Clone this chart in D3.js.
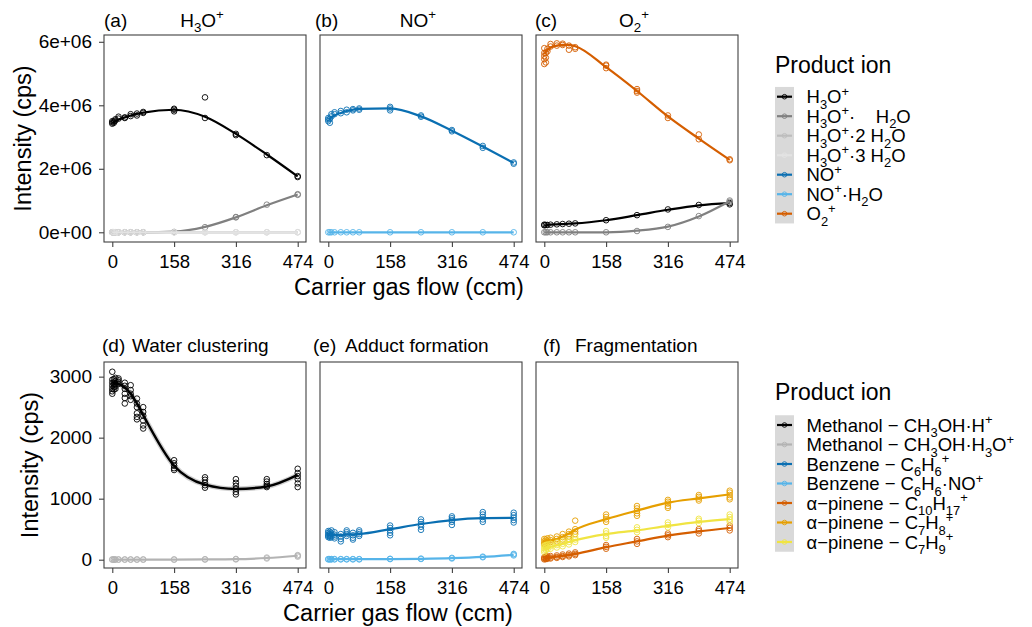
<!DOCTYPE html>
<html>
<head>
<meta charset="utf-8">
<script src="https://cdn.jsdelivr.net/npm/d3@7"></script>
<style>
  body { margin: 0; background: #fff; }
  text { font-family: "Liberation Sans", Arial, Helvetica, sans-serif; fill: #000; }
</style>
</head>
<body>
<svg id="chart" width="1032" height="627"></svg>
<script>
// carrier gas flow settings (ccm)
var flow = [0, 4, 8, 16, 32, 47, 63, 79, 158, 237, 316, 395, 474];
var xTicks = [0, 158, 316, 474];
var yTopTicks = [0, 2e6, 4e6, 6e6];
var yTopLabels = ['0e+00', '2e+06', '4e+06', '6e+06'];
var yBotTicks = [0, 1000, 2000, 3000];

// ---- top row, values in 1e6 cps ----
// (a) H3O+ reagent
var h3oPts = [[3.42, 3.46, 3.50], [3.45, 3.49], [3.52, 3.56], [3.58, 3.64], [3.60, 3.62], [3.66, 3.72], [3.68, 3.74], [3.76, 3.79], [3.81, 3.86, 3.89], [4.25, 3.60], [3.06, 3.10], [2.43], [1.74, 1.77]];
var h3oFit = [3.44, 3.47, 3.50, 3.55, 3.62, 3.68, 3.73, 3.77, 3.86, 3.64, 3.10, 2.45, 1.76];
var h3oW1Pts = [[0], [0], [0], [0], [0], [0], [0], [0], [0.01], [0.16], [0.47, 0.48], [0.87], [1.18, 1.20]];
var h3oW1Fit = [0, 0, 0, 0, 0, 0, 0, 0, 0.02, 0.17, 0.47, 0.85, 1.19];
var h3oW2Pts = [[0], [0], [0], [0], [0], [0], [0], [0], [0], [0], [0], [0], [0]];
var h3oW2Fit = [0, 0, 0, 0, 0, 0, 0, 0, 0, 0, 0, 0, 0];
var h3oW3Pts = [[0], [0], [0], [0], [0], [0], [0], [0], [0], [0], [0], [0], [0]];
var h3oW3Fit = [0, 0, 0, 0, 0, 0, 0, 0, 0, 0, 0, 0, 0];
// (b) NO+ reagent
var noPts = [[3.50, 3.55, 3.60], [3.45, 3.57], [3.65, 3.72], [3.72, 3.78], [3.75, 3.82], [3.78, 3.86], [3.84, 3.88], [3.86, 3.90], [3.84, 3.90, 3.95], [3.64, 3.68], [3.18, 3.22], [2.66, 2.72], [2.16, 2.20]];
var noFit = [3.55, 3.58, 3.62, 3.68, 3.76, 3.82, 3.86, 3.89, 3.90, 3.65, 3.20, 2.70, 2.18];
var noW1Pts = [[0], [0], [0], [0], [0], [0], [0], [0], [0], [0], [0], [0], [0]];
var noW1Fit = [0, 0, 0, 0, 0, 0, 0, 0, 0, 0, 0, 0, 0];
// (c) O2+ reagent
var o2Pts = [[5.30, 5.45, 5.55, 5.65, 5.80], [5.35, 5.50, 5.65], [5.70, 5.78], [5.85, 5.93], [5.88, 5.95], [5.90, 5.94], [5.75, 5.88], [5.78, 5.83], [5.17, 5.25, 5.28], [4.40, 4.45, 4.51], [3.60, 3.68], [2.93, 3.08], [2.27, 2.30]];
var o2Fit = [5.62, 5.68, 5.74, 5.82, 5.88, 5.90, 5.90, 5.86, 5.20, 4.45, 3.65, 2.95, 2.28];
var o2H3oPts = [[0.22, 0.24], [0.23], [0.23], [0.24], [0.25], [0.26], [0.27], [0.28], [0.38], [0.54], [0.72], [0.86], [0.88, 0.92]];
var o2H3oFit = [0.22, 0.22, 0.23, 0.24, 0.25, 0.26, 0.27, 0.28, 0.38, 0.54, 0.71, 0.85, 0.92];
var o2H3oW1Pts = [[0], [0], [0], [0], [0], [0], [0], [0], [0], [0.04], [0.17], [0.51], [0.96, 1.00]];
var o2H3oW1Fit = [0, 0, 0, 0, 0, 0, 0, 0, 0, 0.05, 0.18, 0.50, 0.98];

// ---- bottom row, cps ----
// (d) water clustering
var methHPts = [[3080, 2950, 2900, 2850, 2800, 2760, 2720], [2960, 2900, 2870, 2830, 2790], [2980, 2930, 2880, 2840, 2800], [2970, 2940, 2910, 2880], [2900, 2850, 2800, 2720, 2650, 2560], [2860, 2780, 2720, 2680, 2620], [2640, 2560, 2500, 2400, 2340, 2300], [2500, 2420, 2360, 2280, 2200, 2150], [1630, 1580, 1540, 1500, 1470], [1350, 1310, 1260, 1220, 1180], [1320, 1260, 1210, 1160, 1110, 1070], [1320, 1280, 1240, 1210, 1190], [1490, 1420, 1370, 1320, 1250, 1190]];
var methHFit = [2890, 2890, 2890, 2880, 2820, 2720, 2560, 2370, 1540, 1230, 1160, 1200, 1390];
var methH3oPts = [[0, 5], [0, 5], [0, 5], [0, 5], [0, 5], [0, 5], [0, 5], [0, 5], [0, 5], [2, 8], [5, 12], [20, 35], [50, 65, 75]];
var methH3oFit = [2, 2, 2, 2, 2, 2, 2, 2, 2, 4, 8, 28, 65];
// (e) adduct formation
var benzPts = [[470, 440, 410, 390, 370], [460, 420, 390, 360], [480, 430, 400, 370], [450, 410, 380, 350], [420, 380, 340, 300], [480, 450, 420, 390], [440, 400, 360, 330], [480, 450, 420, 390], [560, 520, 480, 440, 400], [660, 620, 580, 540, 490], [710, 680, 650, 620, 570], [780, 740, 700, 660, 620], [770, 730, 690, 650, 610]];
var benzFit = [415, 412, 410, 408, 405, 410, 415, 420, 500, 585, 650, 680, 685];
var benzNoPts = [[5, 10], [5, 10], [5, 10], [5, 10], [5, 10], [5, 10], [5, 10], [5, 10], [10, 15], [12, 18], [20, 30], [40, 50], [70, 85, 95]];
var benzNoFit = [8, 8, 8, 8, 8, 8, 8, 8, 10, 15, 25, 45, 80];
// (f) fragmentation
var pinC10Pts = [[40, 20, 5], [50, 25, 10], [55, 30, 15], [60, 35, 20], [70, 45, 30], [85, 60, 45], [100, 75, 55], [120, 95, 75], [240, 210, 180], [340, 300, 260], [430, 400, 370], [500, 470, 430], [560, 520, 480]];
var pinC10Fit = [20, 25, 30, 38, 50, 62, 78, 95, 205, 300, 395, 465, 520];
var pinC7H8Pts = [[340, 300, 270, 250], [330, 290, 260], [350, 310, 280], [360, 320, 290], [380, 340, 300], [420, 370, 330], [460, 420, 380, 340], [640, 500, 460, 420], [740, 700, 660, 620], [880, 840, 800, 760, 720], [980, 950, 920, 880, 850], [1060, 1030, 1000, 970], [1130, 1100, 1060, 1020, 990]];
var pinC7H8Fit = [295, 300, 305, 315, 340, 380, 430, 490, 665, 805, 935, 1005, 1070];
var pinC7H9Pts = [[230, 190, 150, 120], [240, 200, 160], [250, 210, 170], [260, 220, 180], [280, 240, 200], [300, 260, 220], [330, 290, 250], [370, 330, 290], [470, 430, 390, 360], [530, 490, 450], [610, 570, 530], [670, 640, 600], [740, 700, 660, 620]];
var pinC7H9Fit = [175, 185, 195, 210, 235, 260, 290, 320, 420, 480, 555, 620, 665];

// legend labels, as [text, 'sub'|'sup'] pieces
var topLegend = [
    [['H'], ['3', 'sub'], ['O'], ['+', 'sup']],
    [['H'], ['3', 'sub'], ['O'], ['+', 'sup'], ['\u00b7    H'], ['2', 'sub'], ['O']],
    [['H'], ['3', 'sub'], ['O'], ['+', 'sup'], ['\u00b72 H'], ['2', 'sub'], ['O']],
    [['H'], ['3', 'sub'], ['O'], ['+', 'sup'], ['\u00b73 H'], ['2', 'sub'], ['O']],
    [['NO'], ['+', 'sup']],
    [['NO'], ['+', 'sup'], ['\u00b7H'], ['2', 'sub'], ['O']],
    [['O'], ['2', 'sub'], ['+', 'sup']]
];
var topColors = ['#000000', '#808080', '#bdbdbd', '#e3e3e3', '#0a6fb2', '#56b4e9', '#d55e00'];
var botLegend = [
    [['Methanol \u2212 CH'], ['3', 'sub'], ['OH\u00b7H'], ['+', 'sup']],
    [['Methanol \u2212 CH'], ['3', 'sub'], ['OH\u00b7H'], ['3', 'sub'], ['O'], ['+', 'sup']],
    [['Benzene \u2212 C'], ['6', 'sub'], ['H'], ['6', 'sub'], ['+', 'sup']],
    [['Benzene \u2212 C'], ['6', 'sub'], ['H'], ['6', 'sub'], ['\u00b7NO'], ['+', 'sup']],
    [['\u03b1\u2212pinene \u2212 C'], ['10', 'sub'], ['H'], ['17', 'sub'], ['+', 'sup']],
    [['\u03b1\u2212pinene \u2212 C'], ['7', 'sub'], ['H'], ['8', 'sub'], ['+', 'sup']],
    [['\u03b1\u2212pinene \u2212 C'], ['7', 'sub'], ['H'], ['9', 'sub'], ['+', 'sup']]
];
var botColors = ['#000000', '#b3b3b3', '#0a6fb2', '#56b4e9', '#d55e00', '#e69f00', '#f0e442'];

var svg = d3.select('#chart');

function rich(sel, parts, size) {
    var shift = 0;
    parts.forEach(function(p) {
        var target = p[1] === 'sub' ? size * 0.3 : (p[1] === 'sup' ? -size * 0.4 : 0);
        sel.append('tspan')
            .attr('dy', target - shift)
            .attr('font-size', p[1] ? size * 0.7 : size)
            .text(p[0]);
        shift = target;
    });
    return sel;
}

var colX = [104, 320, 536];
var panelW = 202;
var rows = [
    { top: 35, bottom: 242, mult: 1e6, domain: [-0.306e6, 6.214e6], ticks: yTopTicks, labels: yTopLabels },
    { top: 362, bottom: 568, mult: 1, domain: [-136, 3240], ticks: yBotTicks, labels: null }
];

var panels = [
    { row: 0, col: 0, tag: '(a)', tagX: 104, title: [['H'], ['3', 'sub'], ['O'], ['+', 'sup']], center: true,
      series: [[h3oPts, h3oFit, 0], [h3oW1Pts, h3oW1Fit, 1], [h3oW2Pts, h3oW2Fit, 2], [h3oW3Pts, h3oW3Fit, 3]] },
    { row: 0, col: 1, tag: '(b)', tagX: 315, title: [['NO'], ['+', 'sup']], center: true,
      series: [[noPts, noFit, 4], [noW1Pts, noW1Fit, 5]] },
    { row: 0, col: 2, tag: '(c)', tagX: 535, title: [['O'], ['2', 'sub'], ['+', 'sup']], center: true,
      series: [[o2H3oPts, o2H3oFit, 0], [o2H3oW1Pts, o2H3oW1Fit, 1], [o2Pts, o2Fit, 6]] },
    { row: 1, col: 0, tag: '(d)', tagX: 102, title: [['Water clustering']], titleX: 132, band: true,
      series: [[methHPts, methHFit, 0], [methH3oPts, methH3oFit, 1]] },
    { row: 1, col: 1, tag: '(e)', tagX: 313, title: [['Adduct formation']], titleX: 345,
      series: [[benzPts, benzFit, 2], [benzNoPts, benzNoFit, 3]] },
    { row: 1, col: 2, tag: '(f)', tagX: 543, title: [['Fragmentation']], titleX: 575,
      series: [[pinC10Pts, pinC10Fit, 4], [pinC7H8Pts, pinC7H8Fit, 5], [pinC7H9Pts, pinC7H9Fit, 6]] }
];

panels.forEach(function(p) {
    var r = rows[p.row];
    var left = colX[p.col];
    var colors = p.row === 0 ? topColors : botColors;
    var x = d3.scaleLinear().domain([-21.2, 495.2]).range([left, left + panelW]);
    var y = d3.scaleLinear().domain(r.domain).range([r.bottom, r.top]);
    var g = svg.append('g');

    g.append('rect')
        .attr('x', left).attr('y', r.top)
        .attr('width', panelW).attr('height', r.bottom - r.top)
        .attr('fill', '#fff');

    var line = d3.line()
        .x(function(d) { return x(d[0]); })
        .y(function(d) { return y(d[1]); })
        .curve(d3.curveMonotoneX);

    p.series.forEach(function(s, k) {
        var col = colors[s[2]];
        var fit = s[1].map(function(v, i) { return [flow[i], v * r.mult]; });
        var pts = [];
        s[0].forEach(function(vals, i) {
            vals.forEach(function(v) { pts.push([flow[i], v * r.mult]); });
        });
        // faint confidence band under the water clustering fit
        if (p.band && k === 0) {
            g.append('path')
                .attr('d', line(fit))
                .attr('fill', 'none')
                .attr('stroke', '#9a9a9a')
                .attr('stroke-opacity', 0.45)
                .attr('stroke-width', 5);
        }
        g.append('path')
            .attr('d', line(fit))
            .attr('fill', 'none')
            .attr('stroke', col)
            .attr('stroke-width', p.row === 1 && s[2] === 0 ? 2.5 : 2.2);
        g.selectAll(null).data(pts).enter().append('circle')
            .attr('cx', function(d) { return x(d[0]); })
            .attr('cy', function(d) { return y(d[1]); })
            .attr('r', 2.8)
            .attr('fill', 'none')
            .attr('stroke', col)
            .attr('stroke-width', 0.9);
    });

    g.append('rect')
        .attr('x', left).attr('y', r.top)
        .attr('width', panelW).attr('height', r.bottom - r.top)
        .attr('fill', 'none')
        .attr('stroke', '#404040')
        .attr('stroke-width', 1.1);

    // x axis
    var xAxis = d3.axisBottom(x).tickValues(xTicks).tickSize(5).tickPadding(8);
    var gx = g.append('g')
        .attr('transform', 'translate(0,' + r.bottom + ')')
        .call(xAxis);
    gx.select('.domain').remove();
    gx.selectAll('line').attr('stroke', '#404040').attr('stroke-width', 1.1);
    gx.selectAll('text').attr('font-size', 18.5).attr('fill', '#111');

    // y axis only on first column
    if (p.col === 0) {
        var yAxis = d3.axisLeft(y).tickValues(r.ticks).tickSize(5).tickPadding(7)
            .tickFormat(function(d, i) { return r.labels ? r.labels[i] : d; });
        var gy = g.append('g')
            .attr('transform', 'translate(' + left + ',0)')
            .call(yAxis);
        gy.select('.domain').remove();
        gy.selectAll('line').attr('stroke', '#404040').attr('stroke-width', 1.1);
        gy.selectAll('text').attr('font-size', 19).attr('fill', '#111');
    }

    // panel titles
    var base = p.row === 0 ? 26.5 : 351.5;
    g.append('text').attr('x', p.tagX).attr('y', base).attr('font-size', 19).text(p.tag);
    var t = g.append('text').attr('y', base).attr('font-size', 19);
    if (p.center) {
        t.attr('x', left + panelW / 2 - 3).attr('text-anchor', 'middle');
    } else {
        t.attr('x', p.titleX);
    }
    rich(t, p.title, 19);
});

// axis titles
[[138.5, 31], [465, 38]].forEach(function(a) {
    svg.append('text')
        .attr('transform', 'translate(' + a[1] + ',' + a[0] + ') rotate(-90)')
        .attr('text-anchor', 'middle')
        .attr('font-size', 23.5)
        .text('Intensity (cps)');
});
[[409, 295], [398, 621]].forEach(function(a) {
    svg.append('text')
        .attr('x', a[0]).attr('y', a[1])
        .attr('text-anchor', 'middle')
        .attr('font-size', 23.5)
        .text('Carrier gas flow (ccm)');
});

// legends
function legend(titleY, firstRow, labels, colors) {
    var step = 19.5;
    var lg = svg.append('g');
    lg.append('text').attr('x', 775).attr('y', titleY).attr('font-size', 23).text('Product ion');
    lg.append('rect')
        .attr('x', 775).attr('y', firstRow - step / 2)
        .attr('width', 19).attr('height', step * labels.length)
        .attr('fill', '#d9d9d9');
    labels.forEach(function(lab, i) {
        var cy = firstRow + i * step;
        lg.append('line')
            .attr('x1', 777).attr('x2', 792).attr('y1', cy).attr('y2', cy)
            .attr('stroke', colors[i]).attr('stroke-width', 2.2);
        lg.append('circle')
            .attr('cx', 784.5).attr('cy', cy).attr('r', 2.3)
            .attr('fill', 'none').attr('stroke', colors[i]).attr('stroke-width', 0.9);
        var t = lg.append('text')
            .attr('x', 806.5).attr('y', cy + 6.5)
            .attr('font-size', 18.5)
            .style('white-space', 'pre');
        rich(t, lab, 18.5);
    });
}
legend(73, 96.7, topLegend, topColors);
legend(400, 425, botLegend, botColors);
</script>
</body>
</html>
